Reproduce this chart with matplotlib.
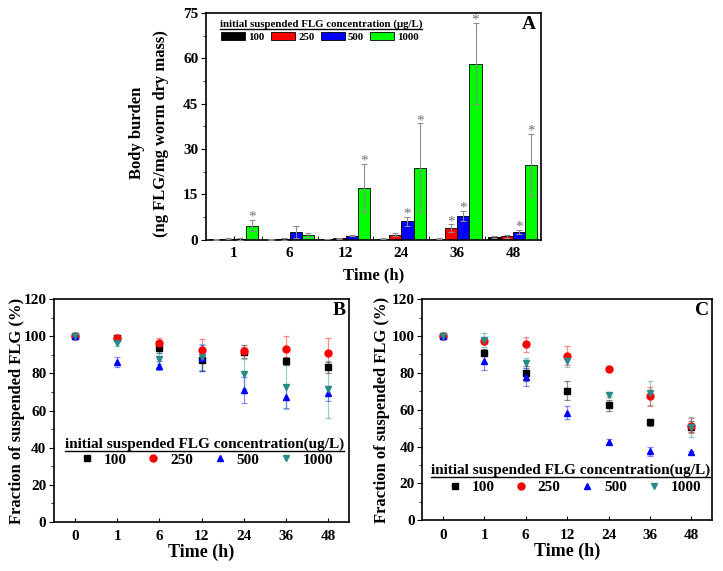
import numpy as np
import matplotlib
matplotlib.use("Agg")
import matplotlib.pyplot as plt
from matplotlib.patches import Patch
from matplotlib.lines import Line2D
from matplotlib.ticker import MultipleLocator, FixedLocator

plt.rcParams['font.family'] = ['Liberation Serif', 'DejaVu Serif']
plt.rcParams['font.weight'] = 'bold'
plt.rcParams['axes.labelweight'] = 'bold'
plt.rcParams['axes.linewidth'] = 1.2

# ---- panel A: body burden ----
times_a = ['1', '6', '12', '24', '36', '48']
conc_labels = ['100', '250', '500', '1000']
bb_100 = [0.2, 0.1, 0.3, 0.4, 0.4, 0.8]
bb_250 = [0.4, 0.3, 0.5, 1.7, 3.9, 1.2]
bb_500 = [0.3, 2.6, 1.3, 6.2, 7.9, 2.5]
bb_1000 = [4.7, 1.6, 17.1, 23.9, 58.3, 24.7]
bb_100_err = [0.1, 0.1, 0.1, 0.1, 0.1, 0.3]
bb_250_err = [0.2, 0.2, 0.1, 0.4, 1.2, 0.5]
bb_500_err = [0.3, 2.1, 0.2, 1.5, 1.8, 0.7]
bb_1000_err = [1.8, 0.6, 7.9, 14.6, 13.5, 10.3]
# significance flags (asterisks)
sig_100 = [0, 0, 0, 0, 0, 0]
sig_250 = [0, 0, 0, 0, 1, 0]
sig_500 = [0, 0, 0, 1, 1, 1]
sig_1000 = [1, 0, 1, 1, 1, 1]

# ---- panels B and C: fraction of suspended FLG ----
times_bc = ['0', '1', '6', '12', '24', '36', '48']
b_100 = [100, 99.2, 93.5, 87.2, 91.6, 86.6, 83.4]
b_250 = [100, 99.0, 96.6, 92.8, 92.2, 93.2, 90.8]
b_500 = [100, 86.1, 84.1, 88.3, 70.9, 67.5, 69.2]
b_1000 = [100, 96.6, 88.0, 89.0, 79.7, 72.7, 71.4]
b_100_err = [0, 1.5, 2.5, 6, 3.5, 2, 3]
b_250_err = [0, 1, 2.5, 6, 2, 7, 8.3]
b_500_err = [0, 2.5, 2.5, 7, 7, 6, 4]
b_1000_err = [0, 2, 3, 7, 8, 12, 15.5]

c_100 = [100, 90.9, 79.8, 70.4, 62.5, 53.2, 50.8]
c_250 = [100, 97.5, 95.5, 89.4, 82.2, 67.2, 51.4]
c_500 = [100, 86.2, 77.7, 58.4, 42.6, 37.3, 36.8]
c_1000 = [100, 97.9, 85.3, 86.2, 68.2, 69.2, 50.8]
c_100_err = [0, 2, 4, 5, 3, 2, 3]
c_250_err = [0, 2, 4, 5, 1, 5, 4]
c_500_err = [0, 4.5, 5, 3.5, 1.5, 2.5, 1]
c_1000_err = [0, 4, 2.5, 3, 1.5, 6.5, 5.5]

bar_colors = ['#000000', '#FF0000', '#0000FF', '#00FF00']
pt_colors = ['#000000', '#FF0000', '#0000FF', '#2A8A8A']
pt_markers = ['s', 'o', '^', 'v']

fig = plt.figure(figsize=(7.23, 5.71), dpi=100)


def underlined_title(ax, text, x, y, size, line_y):
    t = ax.text(x, y, text, transform=ax.transAxes, ha='center', va='center',
                fontsize=size, fontweight='bold')
    fig.canvas.draw()
    bb = t.get_window_extent().transformed(ax.transAxes.inverted())
    ax.plot([bb.x0, bb.x1], [line_y, line_y], transform=ax.transAxes,
            color='k', lw=1.0, clip_on=False)


# ================= A =================
axA = fig.add_axes([0.285, 0.580, 0.463, 0.397])
w = 0.22
xa = np.arange(1, len(times_a) + 1)
series_a = [bb_100, bb_250, bb_500, bb_1000]
errs_a = [bb_100_err, bb_250_err, bb_500_err, bb_1000_err]
sigs_a = [sig_100, sig_250, sig_500, sig_1000]
for i, (vals, err, sig) in enumerate(zip(series_a, errs_a, sigs_a)):
    xpos = xa + (i - 1.5) * w
    axA.bar(xpos, vals, width=w, color=bar_colors[i], edgecolor='black',
            linewidth=0.6, zorder=2)
    axA.errorbar(xpos, vals, yerr=err, fmt='none', ecolor='#8c8c8c',
                 elinewidth=0.8, capsize=2.0, capthick=0.8, zorder=3)
    for xp, v, e, s in zip(xpos, vals, err, sig):
        if s:
            axA.annotate('*', (xp, v + e), xytext=(0, 2), textcoords='offset points',
                         ha='center', va='center', fontsize=11, color='#707070',
                         fontweight='normal')

axA.set_xlim(0.5, 6.5)
axA.set_ylim(0, 75)
axA.yaxis.set_major_locator(MultipleLocator(15))
axA.yaxis.set_minor_locator(MultipleLocator(7.5))
axA.set_xticks(xa)
axA.set_xticklabels(times_a)
axA.xaxis.set_minor_locator(FixedLocator(np.arange(1.5, 6.5, 1)))
axA.tick_params(axis='x', which='both', direction='in', length=3, labelsize=11, pad=5)
axA.tick_params(axis='y', which='major', direction='out', length=3.5, labelsize=11, pad=2)
axA.tick_params(axis='y', which='minor', direction='out', length=2)
axA.set_xlabel('Time (h)', fontsize=12)
axA.xaxis.set_label_coords(0.5, -0.12)
axA.set_ylabel('Body burden\n(ng FLG/mg worm dry mass)', fontsize=12, linespacing=1.7)
axA.yaxis.set_label_coords(-0.11, 0.47)
axA.text(0.965, 0.948, 'A', transform=axA.transAxes, ha='center', va='center',
         fontsize=14, fontweight='bold')

handles_a = [Patch(facecolor=c, edgecolor='black', linewidth=0.6) for c in bar_colors]
axA.legend(handles_a, conc_labels, loc='center left', bbox_to_anchor=(0.045, 0.894),
           ncol=4, frameon=False, fontsize=7.8, handlelength=2.2, handleheight=0.8,
           handletextpad=0.3, columnspacing=0.6, borderpad=0, borderaxespad=0)
underlined_title(axA, 'initial suspended FLG concentration (\u03bcg/L)', 0.343, 0.952,
                 7.8, 0.93)


# ================= B and C =================
def frac_panel(rect, data, errs, label, title_y, line_y, leg_y, ylab_x):
    ax = fig.add_axes(rect)
    xs = np.arange(len(times_bc))
    handles = []
    for i, (vals, err) in enumerate(zip(data, errs)):
        ax.errorbar(xs, vals, yerr=err, fmt='none', ecolor=pt_colors[i], alpha=0.45,
                    elinewidth=0.9, capsize=2.5, capthick=0.9, zorder=2)
        ax.plot(xs, vals, linestyle='none', marker=pt_markers[i], color=pt_colors[i],
                markersize=5, zorder=3)
        handles.append(Line2D([], [], linestyle='none', marker=pt_markers[i],
                              color=pt_colors[i], markersize=5))
    ax.set_xlim(-0.5, 6.5)
    ax.set_ylim(0, 120)
    ax.set_xticks(xs)
    ax.set_xticklabels(times_bc)
    ax.yaxis.set_major_locator(MultipleLocator(20))
    ax.yaxis.set_minor_locator(MultipleLocator(10))
    ax.tick_params(axis='x', direction='in', length=3, labelsize=11, pad=6)
    ax.tick_params(axis='y', which='major', direction='out', length=3.5, labelsize=11, pad=2)
    ax.tick_params(axis='y', which='minor', direction='out', length=2)
    ax.set_xlabel('Time (h)', fontsize=13)
    ax.xaxis.set_label_coords(0.5, -0.10)
    ax.set_ylabel('Fraction of suspended FLG (%)', fontsize=12)
    ax.yaxis.set_label_coords(ylab_x, 0.5)
    ax.text(0.965, 0.95, label, transform=ax.transAxes, ha='center', va='center',
            fontsize=14, fontweight='bold')
    ax.legend(handles, conc_labels, loc='center left', bbox_to_anchor=(0.085, leg_y),
              ncol=4, frameon=False, fontsize=11, handlelength=1.0,
              handletextpad=0.6, columnspacing=1.25, borderpad=0, borderaxespad=0)
    underlined_title(ax, 'initial suspended FLG concentration(ug/L)', 0.51, title_y,
                     11, line_y)
    return ax


frac_panel([0.0747, 0.086, 0.408, 0.390],
           [b_100, b_250, b_500, b_1000],
           [b_100_err, b_250_err, b_500_err, b_1000_err],
           'B', 0.35, 0.318, 0.278, -0.10)
frac_panel([0.584, 0.089, 0.401, 0.387],
           [c_100, c_250, c_500, c_1000],
           [c_100_err, c_250_err, c_500_err, c_1000_err],
           'C', 0.226, 0.195, 0.149, -0.112)

fig.savefig('out.png', dpi=100)
